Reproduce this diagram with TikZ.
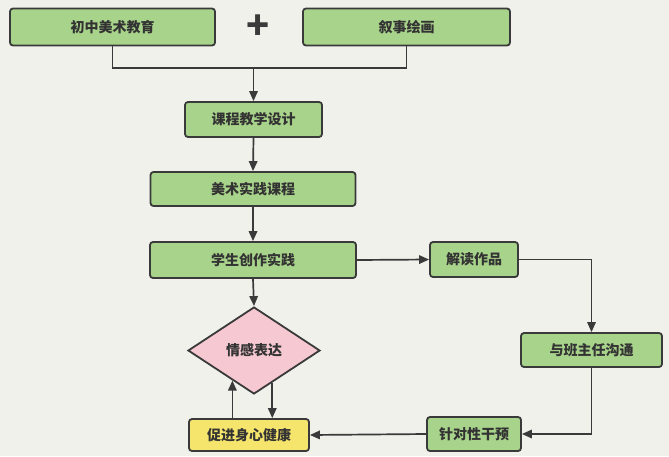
\documentclass[tikz,border=0pt]{standalone}
\usepackage{fontspec}
\setmainfont{Noto Sans CJK SC}
\usetikzlibrary{shapes.geometric,arrows.meta,calc}
\definecolor{bg}{HTML}{F1F1EC}
\definecolor{gfill}{HTML}{A8D38A}
\definecolor{pfill}{HTML}{F5C8D2}
\definecolor{yfill}{HTML}{F6E56C}
\definecolor{ln}{HTML}{3A3A3A}
\definecolor{txt}{HTML}{333333}
\tikzset{
  box/.style={draw=ln, line width=1.8pt, rounded corners=3pt, fill=gfill, text=txt,
    font=\fontsize{14}{16}\selectfont\bfseries, inner sep=0pt},
  ybox/.style={box, fill=yfill},
  dia/.style={diamond, draw=ln, line width=1.8pt, fill=pfill, text=txt,
    font=\fontsize{14}{16}\selectfont\bfseries, inner sep=0pt, aspect=1.5},
  conn/.style={draw=ln, line width=1.7pt},
  arr/.style={conn, -{Triangle[length=10pt,width=8.5pt]}},
}
\begin{document}
\begin{tikzpicture}[x=1pt,y=-1pt]
\fill[bg] (0,0) rectangle (669,456);
\useasboundingbox (0,0) rectangle (669,456);
\node[box, minimum width=205pt, minimum height=37pt] (a) at (112.5,27) {初中美术教育};
\node[text=ln, font=\fontsize{38}{38}\selectfont\bfseries] (plus) at (258,27) {+};
\node[box, minimum width=207pt, minimum height=37pt] (b) at (406.5,27) {叙事绘画};
\node[box, minimum width=137pt, minimum height=35pt] (c) at (253.5,119.5) {课程教学设计};
\node[box, minimum width=205pt, minimum height=34pt] (d) at (253,189) {美术实践课程};
\node[box, minimum width=206pt, minimum height=36pt] (e) at (253,260) {学生创作实践};
\node[box, minimum width=88pt, minimum height=35pt] (f) at (474,259.5) {解读作品};
\node[box, minimum width=141pt, minimum height=34pt] (g) at (591.5,350) {与班主任沟通};
\node[box, minimum width=94pt, minimum height=34pt] (h) at (474,434) {针对性干预};
\node[ybox, minimum width=120pt, minimum height=32pt] (i) at (249,435) {促进身心健康};
\node[dia, minimum width=132pt, minimum height=87pt] (j) at (254,350.5) {情感表达};
\coordinate (m) at (253.5,68);
\draw[conn] (a.south) |- (m) -| (b.south);
\draw[arr] (m) -- (c.north);
\draw[arr] (c.south) -- (d.north);
\draw[arr] (d.south) -- (e.north);
\draw[arr] (e.south) -- (j.north);
\draw[arr] (e.east) -- (f.west);
\draw[arr] (f.east) -| (g.north);
\draw[arr] (g.south) |- (h.east);
\draw[arr] (h.west) -- (i.east);
\coordinate (up) at ($(j.west)!0.677!(j.south)$);
\coordinate (dn) at ($(j.south)!0.273!(j.east)$);
\draw[arr] (up |- i.north) -- (up);
\draw[arr] (dn) -- (dn |- i.north);
\end{tikzpicture}
\end{document}
